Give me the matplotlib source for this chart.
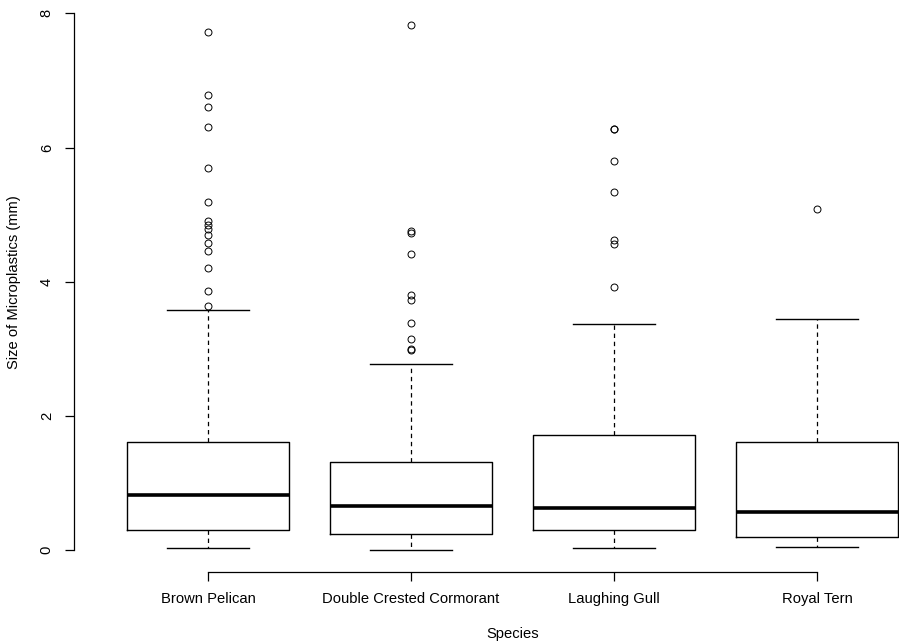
import matplotlib
matplotlib.use("Agg")
import matplotlib.pyplot as plt

plt.rcParams['font.family'] = ['Liberation Sans', 'DejaVu Sans']

species = ['Brown Pelican', 'Double Crested Cormorant', 'Laughing Gull', 'Royal Tern']

# five-number summaries (mm)
whisker_low = [0.034, 0.004, 0.034, 0.049]
q1 = [0.298, 0.243, 0.298, 0.194]
median = [0.820, 0.651, 0.621, 0.571]
q3 = [1.615, 1.316, 1.714, 1.615]
whisker_high = [3.578, 2.775, 3.364, 3.444]

# outliers per species
out_pelican = [7.72, 6.79, 6.61, 6.31, 5.69, 5.19, 4.90, 4.84, 4.79, 4.70,
               4.58, 4.46, 4.20, 3.86, 3.64]
out_cormorant = [7.82, 4.76, 4.73, 4.41, 3.80, 3.73, 3.38, 3.14, 2.99, 2.98]
out_gull = [6.28, 6.27, 5.80, 5.34, 4.62, 4.56, 3.92]
out_tern = [5.08]
outliers = [out_pelican, out_cormorant, out_gull, out_tern]

stats = []
for i, name in enumerate(species):
    stats.append({'label': name, 'whislo': whisker_low[i], 'q1': q1[i],
                  'med': median[i], 'q3': q3[i], 'whishi': whisker_high[i],
                  'fliers': outliers[i]})

fig = plt.figure(figsize=(8.99, 6.44), dpi=100)
# plot region: left edge at x=74px, bottom at y=571.5px (R style, cropped right/top)
ax = fig.add_axes([74 / 899, (644 - 571.5) / 644, (899 - 74) / 899, 571.5 / 644])

ax.bxp(stats, positions=[1, 2, 3, 4], widths=0.8, capwidths=0.4,
       boxprops=dict(color='black', linewidth=1.0),
       medianprops=dict(color='black', linewidth=2.6),
       whiskerprops=dict(color='black', linewidth=0.9, linestyle=(0, (3.5, 3))),
       capprops=dict(color='black', linewidth=1.0),
       flierprops=dict(marker='o', markerfacecolor='none', markeredgecolor='black',
                       markersize=5, markeredgewidth=0.7),
       showfliers=True)

ax.set_xlim(0.34, 4.404)
ax.set_ylim(-0.32, 8.2)

for side in ['top', 'right']:
    ax.spines[side].set_visible(False)
ax.spines['left'].set_bounds(0, 8)
ax.spines['bottom'].set_bounds(1, 4)
for side in ['left', 'bottom']:
    ax.spines[side].set_linewidth(0.9)

ax.set_yticks([0, 2, 4, 6, 8])
ax.set_yticklabels(['0', '2', '4', '6', '8'], rotation=90, va='center')
ax.set_xticks([1, 2, 3, 4])
ax.set_xticklabels(species)
ax.tick_params(axis='both', direction='out', length=6.5, width=0.9,
               labelsize=10.6, colors='black')
ax.tick_params(axis='x', pad=8)
ax.tick_params(axis='y', pad=8)

ax.set_xlabel('Species', fontsize=10.6)
ax.xaxis.set_label_coords((512.5 - 74) / 825, (571.5 - 634) / 571.5)
ax.xaxis.label.set_va('center')
ax.set_ylabel('Size of Microplastics (mm)', fontsize=10.6)
ax.yaxis.set_label_coords((14 - 74) / 825, (571.5 - 282) / 571.5)
ax.yaxis.label.set_va('center')

fig.savefig('out.png', dpi=100)
